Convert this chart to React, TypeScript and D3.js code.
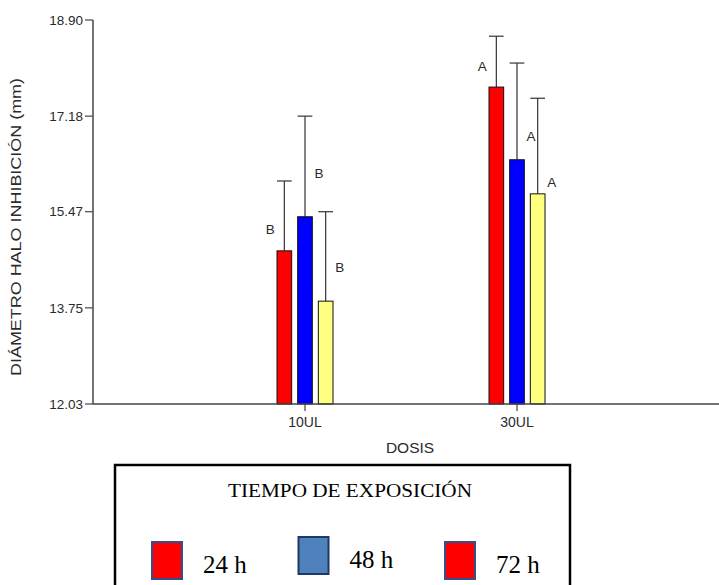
import React from "react";
import * as d3 from "d3";

// dose groups and exposure times
const doses = ["10UL", "30UL"];
const times = ["24 h", "48 h", "72 h"];
const barColors = ["#FF0000", "#0000FF", "#FFFF80"];

// mean halo diameter (mm) per dose, per time
const means = [
  [14.77, 15.38, 13.87],
  [17.7, 16.4, 15.79],
];
// upper end of the error bar
const errTops = [
  [16.02, 17.18, 15.47],
  [18.61, 18.13, 17.5],
];
// significance letters and where they sit (data units)
const letters = [
  ["B", "B", "B"],
  ["A", "A", "A"],
];
const letterY = [
  [15.16, 16.16, 14.48],
  [18.08, 16.82, 16.0],
];

const yTicks = [12.03, 13.75, 15.47, 17.18, 18.9];

const legendFills = ["#FF0000", "#4F81BD", "#FF0000"];
const legendStrokes = ["#2F528F", "#203864", "#2F528F"];

const W = 719;
const H = 585;
const axisX = 93;
const baseY = 404;
const topY = 20;

export default function App() {
  const y = d3.scaleLinear().domain([12.03, 18.9]).range([baseY, topY]);
  const x0 = d3.scalePoint<string>().domain(doses).range([93, 729]).padding(1);
  const x1 = d3.scaleBand<string>().domain(times).range([-28, 28]).paddingInner(0.29);
  const bw = x1.bandwidth();
  const sans = "'Liberation Sans', Arial, sans-serif";
  const serif = "'Liberation Serif', 'Times New Roman', serif";
  const txt = "#2a2a2a";

  return (
    <svg width={W} height={H} style={{ position: "absolute", left: 0, top: 0, background: "#fff" }}>
      {/* bars */}
      {doses.map((dose, di) => (
        <g key={dose} transform={`translate(${x0(dose)},0)`}>
          {times.map((t, ti) => {
            const bx = x1(t)!;
            const cx = bx + bw / 2;
            const side = ti === 0 ? -1 : 1;
            return (
              <g key={t}>
                <line x1={cx} x2={cx} y1={y(means[di][ti])} y2={y(errTops[di][ti])} stroke="#333" strokeWidth={1.2} />
                <line x1={bx} x2={bx + bw} y1={y(errTops[di][ti])} y2={y(errTops[di][ti])} stroke="#333" strokeWidth={1.2} />
                <rect x={bx} y={y(means[di][ti])} width={bw} height={baseY - y(means[di][ti])} fill={barColors[ti]} stroke="#111" strokeWidth={1} />
                <text x={cx + side * 14} y={y(letterY[di][ti])} dy="0.35em" textAnchor="middle" fontFamily={sans} fontSize={13.5} fill={txt}>
                  {letters[di][ti]}
                </text>
              </g>
            );
          })}
        </g>
      ))}

      {/* y axis */}
      <line x1={axisX} x2={axisX} y1={topY} y2={baseY} stroke="#444" strokeWidth={1.5} />
      {yTicks.map((t) => (
        <g key={t}>
          <line x1={axisX - 8} x2={axisX} y1={y(t)} y2={y(t)} stroke="#444" strokeWidth={1.2} />
          <text x={axisX - 10} y={y(t)} dy="0.35em" textAnchor="end" fontFamily={sans} fontSize={13.5} fill={txt}>
            {t.toFixed(2)}
          </text>
        </g>
      ))}
      <text
        transform={`translate(21,227) rotate(-90)`}
        textAnchor="middle"
        fontFamily={sans}
        fontSize={15.5}
        fill={txt}
        textLength={298}
        lengthAdjust="spacingAndGlyphs"
      >
        DIÁMETRO HALO INHIBICIÓN (mm)
      </text>

      {/* x axis */}
      <line x1={axisX} x2={W} y1={baseY} y2={baseY} stroke="#444" strokeWidth={1.5} />
      {doses.map((d) => (
        <g key={d}>
          <line x1={x0(d)!} x2={x0(d)!} y1={baseY} y2={baseY + 7} stroke="#444" strokeWidth={1.2} />
          <text x={x0(d)!} y={baseY + 18} dy="0.35em" textAnchor="middle" fontFamily={sans} fontSize={14} fill={txt}>
            {d}
          </text>
        </g>
      ))}
      <text x={410} y={448} dy="0.35em" textAnchor="middle" fontFamily={sans} fontSize={15.5} fill={txt}>
        DOSIS
      </text>

      {/* legend */}
      <rect x={115} y={465} width={455} height={130} fill="#fff" stroke="#000" strokeWidth={2.5} />
      <text
        x={350}
        y={497}
        textAnchor="middle"
        fontFamily={serif}
        fontSize={18.5}
        fill="#000"
        textLength={244}
        lengthAdjust="spacingAndGlyphs"
      >
        TIEMPO DE EXPOSICIÓN
      </text>
      {times.map((t, i) => {
        const lx = 152 + i * 146.5;
        const dy = i === 1 ? -5 : 0;
        return (
          <g key={t} transform={`translate(${lx},${542 + dy})`}>
            <rect x={0} y={0} width={30} height={37} fill={legendFills[i]} stroke={legendStrokes[i]} strokeWidth={2} />
            <text x={51} y={31} fontFamily={serif} fontSize={25} fill="#000">
              {t}
            </text>
          </g>
        );
      })}
    </svg>
  );
}
